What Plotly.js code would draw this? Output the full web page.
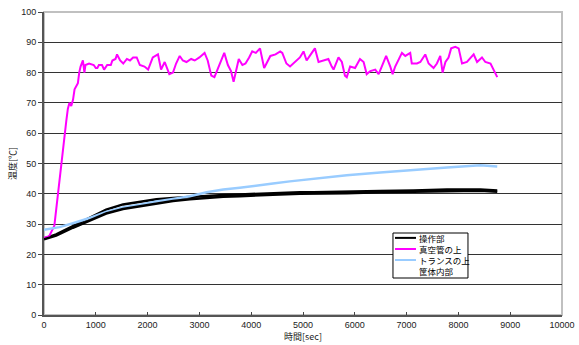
<!DOCTYPE html>
<html>
<head>
<meta charset="utf-8">
<script src="https://cdn.plot.ly/plotly-3.0.1.min.js"></script>
<style>html,body{margin:0;padding:0;background:#fff;}</style>
</head>
<body>
<div id="chart" style="width:579px;height:345px;"></div>
<script>
// Series names
const seriesNames = ['操作部', '真空管の上', 'トランスの上', '筐体内部'];
const seriesColors = ['#000000', '#ff00ff', '#99ccff', null];

// 操作部 (black, upper)
const opT = [0, 235, 558, 880, 1200, 1525, 1850, 2170, 2490, 2815, 3140, 3460, 3780, 4100, 4420, 4940, 5200, 5845, 6490, 7135, 7780, 8425, 8750];
const opV = [25.2, 26.6, 29.3, 32.0, 34.8, 36.5, 37.3, 38.2, 38.6, 39.0, 39.3, 39.6, 39.8, 40.0, 40.3, 40.5, 40.5, 40.6, 40.9, 41.1, 41.4, 41.4, 41.1];

// 真空管の上 (magenta)
const vacT = [0, 100, 200, 267, 300, 350, 397, 430, 460, 490, 526, 560, 590, 620, 654, 680, 706, 751, 780, 800, 870, 960, 1000, 1030, 1060, 1120, 1160, 1220, 1290, 1320, 1380, 1410, 1470, 1530, 1600, 1660, 1720, 1790, 1850, 1940, 2010, 2100, 2200, 2260, 2330, 2420, 2490, 2550, 2620, 2680, 2750, 2840, 2910, 3000, 3100, 3160, 3230, 3290, 3350, 3420, 3480, 3550, 3610, 3660, 3700, 3760, 3830, 3890, 3960, 4020, 4090, 4170, 4250, 4310, 4370, 4470, 4560, 4600, 4680, 4750, 4845, 4940, 5010, 5070, 5170, 5230, 5300, 5395, 5490, 5555, 5590, 5685, 5750, 5810, 5845, 5910, 6005, 6100, 6170, 6230, 6300, 6395, 6460, 6520, 6605, 6685, 6730, 6780, 6845, 6910, 6975, 7070, 7100, 7200, 7265, 7360, 7425, 7520, 7585, 7650, 7695, 7750, 7810, 7860, 7940, 8005, 8070, 8165, 8295, 8360, 8455, 8520, 8620, 8685, 8750];
const vacV = [25.5, 26, 29.5, 40, 45.5, 53, 60, 64, 68, 70, 69, 71, 74.5, 75.5, 76.5, 80, 82, 84, 80, 82.5, 83, 82.5, 81.5, 81.5, 82.5, 82.5, 81, 82.5, 82.5, 84, 84.5, 86, 84, 83, 84.5, 84, 85, 85, 82.5, 82, 81, 85, 86, 81, 83.5, 79.5, 80, 83, 85.5, 84, 83.5, 84.5, 84, 85, 86.5, 84, 79, 78.5, 81, 84.5, 86.5, 82.5, 80.5, 77, 80.5, 84.5, 82.5, 83, 85, 87, 86.5, 88, 81.5, 83.5, 85.5, 86, 87, 86.5, 83, 82, 83.5, 85, 87, 84, 86.5, 88, 83.5, 84, 84.5, 82, 81, 85, 83.5, 79, 78.5, 82, 81.5, 84.5, 83.5, 79.5, 80.5, 81, 79.5, 82, 85.5, 82, 79.5, 82, 84.5, 86.5, 85.5, 86.5, 83, 83, 83.5, 86, 83, 81.5, 83, 85.5, 80, 83.5, 85, 88, 88.5, 88, 83, 83.5, 86, 83.5, 85, 83.5, 83, 81, 78.5];

// トランスの上 (light blue)
const trT = [0, 300, 558, 880, 1200, 1525, 1850, 2170, 2490, 2815, 3140, 3460, 3780, 4100, 4420, 4745, 5200, 5845, 6490, 7135, 7780, 8425, 8750];
const trV = [28.1, 29.0, 30.3, 32.0, 34.0, 35.5, 36.4, 37.5, 38.3, 39.2, 40.5, 41.4, 42.0, 42.8, 43.4, 44.1, 45.0, 46.1, 47.0, 47.9, 48.7, 49.4, 49.0];

// 筐体内部 (black, lower)
const boxT = [0, 235, 558, 880, 1200, 1525, 1850, 2170, 2490, 2815, 3140, 3460, 3780, 4100, 4420, 4940, 5200, 5845, 6490, 7135, 7780, 8425, 8750];
const boxV = [25.0, 26.2, 28.8, 31.2, 33.5, 35.0, 35.9, 36.8, 37.6, 38.2, 38.7, 39.0, 39.2, 39.5, 39.7, 40.0, 40.0, 40.2, 40.5, 40.7, 41.0, 41.0, 40.7];

// Axis ticks
const xTicks = [0, 1000, 2000, 3000, 4000, 5000, 6000, 7000, 8000, 9000, 10000];
const yTicks = [0, 10, 20, 30, 40, 50, 60, 70, 80, 90, 100];

const traces = [
  {x: opT, y: opV, name: seriesNames[0], mode: 'lines', line: {color: seriesColors[0], width: 2.5}},
  {x: vacT, y: vacV, name: seriesNames[1], mode: 'lines', line: {color: seriesColors[1], width: 2}},
  {x: trT, y: trV, name: seriesNames[2], mode: 'lines', line: {color: seriesColors[2], width: 2.5}},
  {x: boxT, y: boxV, name: seriesNames[3], mode: 'lines', line: {color: '#000000', width: 2.5}}
];

// Compact legend box (Excel style), built from the series names/colours
const legBox = {x0: 0.6737, x1: 0.8185, y0: 0.1221, y1: 0.2706};
const legRows = [0.2545, 0.2178, 0.1815, 0.1449];
const shapes = [
  {type: 'rect', xref: 'paper', yref: 'paper', x0: 0, x1: 1, y0: 0, y1: 1,
   line: {color: '#c0c0c0', width: 2}, layer: 'below'},
  {type: 'rect', xref: 'paper', yref: 'paper', x0: legBox.x0, x1: legBox.x1, y0: legBox.y0, y1: legBox.y1,
   line: {color: '#000000', width: 1}, fillcolor: '#ffffff', layer: 'above'}
];
seriesNames.forEach((nm, i) => {
  if (seriesColors[i]) {
    shapes.push({type: 'line', xref: 'paper', yref: 'paper', x0: 0.6776, x1: 0.7181,
      y0: legRows[i], y1: legRows[i], line: {color: seriesColors[i], width: 2}, layer: 'above'});
  }
});
const annotations = [{
  xref: 'paper', yref: 'paper', x: 0.722, y: 0.1997, xanchor: 'left', yanchor: 'middle',
  align: 'left', text: seriesNames.join('<br>'), showarrow: false, borderpad: 0,
  font: {size: 8.5, color: '#000', family: '"Noto Sans CJK JP", sans-serif'}
}];

const layout = {
  width: 579, height: 345,
  margin: {l: 44, r: 17, t: 12, b: 30, pad: 0},
  paper_bgcolor: '#ffffff', plot_bgcolor: '#ffffff',
  font: {family: 'Liberation Sans, Arial, "Noto Sans CJK JP", sans-serif', size: 9, color: '#222'},
  showlegend: false,
  xaxis: {
    range: [0, 10000], tickvals: xTicks, ticktext: xTicks.map(String),
    ticks: 'inside', ticklen: 3, tickcolor: '#444', tickwidth: 1,
    showline: true, linecolor: '#555', linewidth: 2,
    showgrid: false, zeroline: false, automargin: false,
    tickfont: {size: 9, color: '#222'},
    title: {text: '時間[sec]', font: {size: 9, color: '#222', family: '"Noto Sans CJK JP", sans-serif'}, standoff: 2}
  },
  yaxis: {
    range: [0, 100], tickvals: yTicks, ticktext: yTicks.map(String),
    ticks: 'outside', ticklen: 4, tickcolor: '#444', tickwidth: 1,
    showline: true, linecolor: '#555', linewidth: 2,
    showgrid: true, gridcolor: '#333', gridwidth: 1, zeroline: false, automargin: false,
    tickfont: {size: 9, color: '#222'},
    title: {text: '温度[℃]', font: {size: 9, color: '#222', family: '"Noto Sans CJK JP", sans-serif'}, standoff: 3}
  },
  shapes: shapes,
  annotations: annotations
};

Plotly.newPlot('chart', traces, layout, {displayModeBar: false, staticPlot: true});
</script>
</body>
</html>
